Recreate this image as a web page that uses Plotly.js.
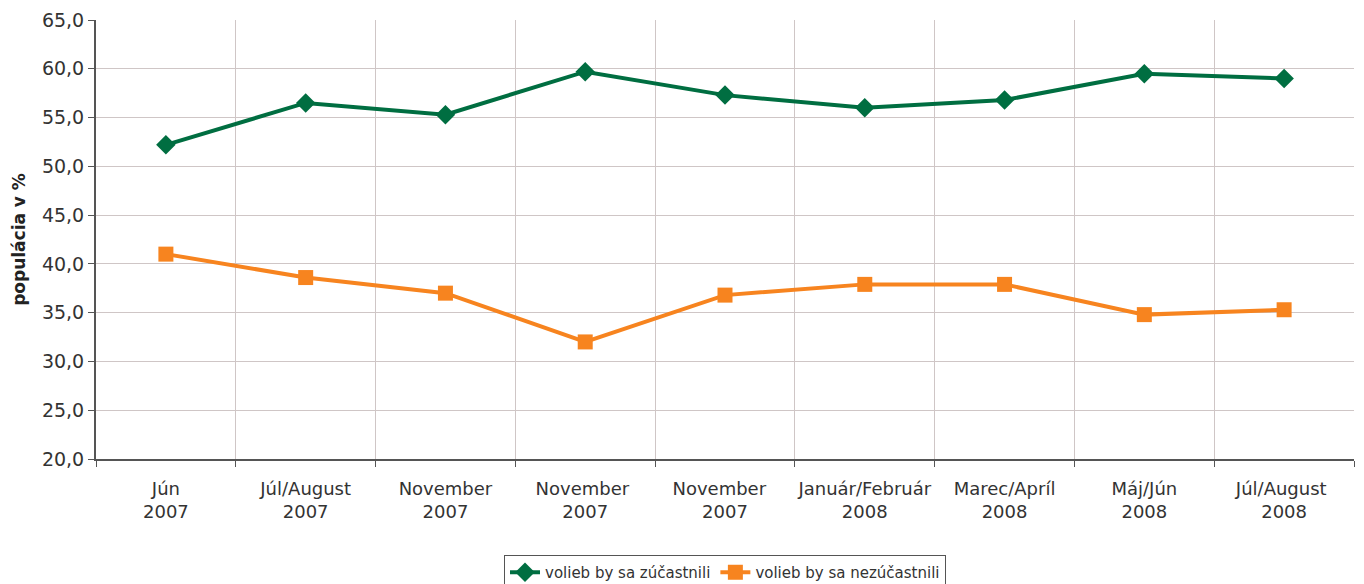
<!DOCTYPE html>
<html>
<head>
<meta charset="utf-8">
<script src="https://cdn.plot.ly/plotly-3.0.1.min.js"></script>
<style>html,body{margin:0;padding:0;background:#fff;}#chart{width:1364px;height:584px;}</style>
</head>
<body>
<div id="chart"></div>
<script>
const categories = ["Jún<br>2007", "Júl/August<br>2007", "November<br>2007", "November <br>2007", "November  <br>2007", "Január/Február<br>2008", "Marec/Apríl<br>2008", "Máj/Jún<br>2008", "Júl/August <br>2008"];
const participate = [52.2, 56.5, 55.3, 59.7, 57.3, 56.0, 56.8, 59.5, 59.0];
const notParticipate = [41.0, 38.6, 37.0, 32.0, 36.8, 37.9, 37.9, 34.8, 35.3];
const seriesNames = ["volieb by sa zúčastnili", "volieb by sa nezúčastnili"];
const yTitle = "populácia v %";

const font = "'DejaVu Sans', Verdana, sans-serif";

const data = [
  {x: categories, y: participate, name: seriesNames[0], type: "scatter", mode: "lines+markers",
   line: {color: "#006E41", width: 4}, marker: {symbol: "diamond", size: 15, color: "#006E41"}},
  {x: categories, y: notParticipate, name: seriesNames[1], type: "scatter", mode: "lines+markers",
   line: {color: "#F7841F", width: 4}, marker: {symbol: "square", size: 15, color: "#F7841F"}}
];

const layout = {
  width: 1364, height: 584,
  margin: {l: 96, r: 10, t: 20, b: 125, autoexpand: false},
  paper_bgcolor: "#fff", plot_bgcolor: "#fff",
  separators: ", ",
  font: {family: font, size: 16, color: "#333"},
  showlegend: true,
  legend: {orientation: "h", x: 0.5, xanchor: "center", y: -0.2187, yanchor: "top",
           bordercolor: "#555", borderwidth: 1, font: {size: 15, color: "#333"},
           tracegroupgap: 0},
  xaxis: {type: "category", tickson: "boundaries", showgrid: true, gridcolor: "#cfc6c6", gridwidth: 1,
          showline: true, linecolor: "#555", linewidth: 2, ticks: "outside", ticklen: 6, tickcolor: "#555",
          ticklabelstandoff: 12, tickangle: 0,
          tickfont: {size: 18, color: "#333"}, range: [-0.5, 8.5], fixedrange: true},
  yaxis: {range: [20, 65], dtick: 5, tick0: 20, tickformat: ".1f", showgrid: true, gridcolor: "#cfc6c6",
          showline: true, linecolor: "#555", linewidth: 2, ticks: "outside", ticklen: 6, tickcolor: "#555",
          tickfont: {size: 19, color: "#333"}, zeroline: false,
          title: {text: yTitle, font: {size: 17, color: "#222", weight: "bold"}, standoff: 12}}
};

Plotly.newPlot("chart", data, layout, {displayModeBar: false, staticPlot: true});
</script>
</body>
</html>
